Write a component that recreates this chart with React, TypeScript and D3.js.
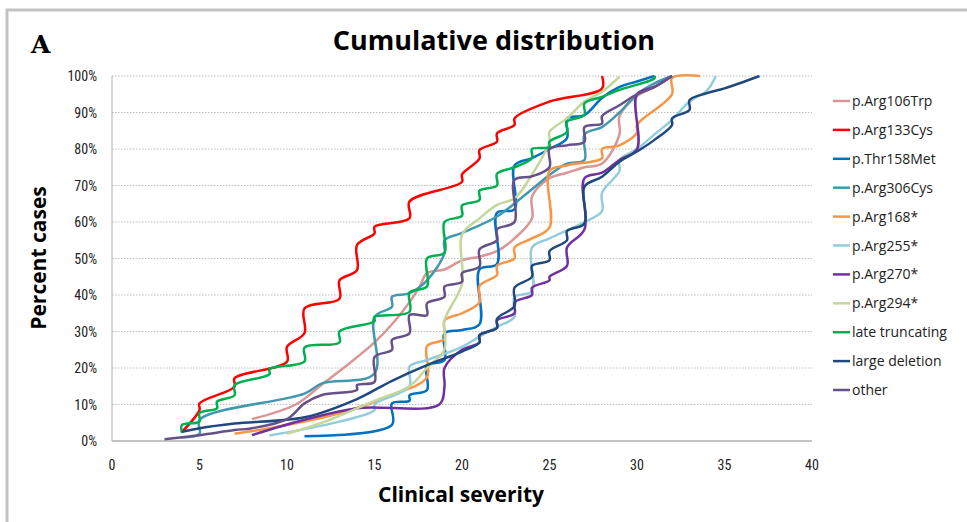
import React from "react";
import * as d3 from "d3";

const W = 967;
const H = 522;

const xTicks = [0, 5, 10, 15, 20, 25, 30, 35, 40];
const yTicks = [0, 10, 20, 30, 40, 50, 60, 70, 80, 90, 100];

// [severity, cumulative %]
const arg106Trp = [[8, 6], [10.5, 10], [12, 15.5], [13.5, 21], [15, 27], [16, 32], [17, 38], [17.6, 42.5], [18, 46], [19, 47], [20, 49.5], [21, 50.5], [22, 52], [23, 55.5], [24, 61], [24, 67], [25, 72], [26, 73.5], [27, 75], [28, 76], [29, 84], [29, 89], [30, 94.5], [31, 97], [32, 100]];
const arg133Cys = [[4, 2.5], [5, 8.5], [5, 10.3], [7, 14.9], [7, 17.2], [10, 21.7], [10, 25.8], [11, 29.6], [11, 36.3], [13, 39], [13, 44], [14, 46.8], [14, 53.7], [15, 56.9], [15, 58.7], [17, 61], [17, 65.6], [20, 71], [20, 73], [21, 77.4], [21, 79.7], [22, 82], [22, 84.3], [23, 86.6], [23, 88.4], [25, 93], [28, 96.6], [28, 100]];
const thr158Met = [[11, 1.3], [16, 4.4], [16, 10.3], [17, 11], [17, 12.5], [18, 14], [18, 20.5], [19, 22.2], [19, 29.5], [20, 30.4], [21, 32], [21, 47], [22, 48.5], [22, 62.5], [23, 63.5], [23, 75.5], [24, 77.5], [25, 80], [26, 83], [26, 88.4], [27, 89.3], [28, 94], [29, 97], [30, 98.5], [31, 100]];
const arg306Cys = [[4, 1], [5, 2], [5, 5.8], [11, 13], [12, 15.8], [15, 18.5], [15, 34], [16, 36.8], [16, 39.5], [17, 40.5], [18, 44], [19, 51.5], [19, 55], [20, 57], [22, 61.5], [24, 69], [25, 72.9], [26, 76], [27, 77], [27, 84], [28, 86], [29, 90], [30, 95], [31, 98], [32, 100]];
const arg168 = [[7, 2], [9, 3.5], [13, 7.6], [16, 12.6], [18, 17.5], [18, 26], [19, 28], [19, 33], [20, 35], [21, 38], [21, 42.5], [22, 45.5], [22, 48], [23, 50], [23, 53], [24, 55.5], [25, 58.5], [25, 74], [26, 75.5], [28, 77.5], [28, 80], [29, 81], [30, 84.5], [30, 86.6], [32, 95], [32, 99.5], [33.6, 100]];
const arg255 = [[9, 1.5], [13, 5.3], [15, 8.5], [15, 10], [17, 15], [17, 20.4], [18, 22.2], [20, 25.8], [21, 28.6], [22, 31.3], [23, 34], [23, 39.5], [24, 41], [24, 53], [25, 55.5], [27, 60], [28, 63], [28, 68], [29, 74], [29, 77], [30, 80], [31, 84], [32, 88], [33, 93], [34, 96], [34.5, 100]];
const arg270 = [[8, 1.6], [11, 5.8], [14, 9], [18.7, 10], [19, 15], [19, 20], [20, 25], [21, 27], [21, 29], [22, 31], [22, 33], [23, 35], [23, 38], [24, 40], [24, 42], [25, 44], [25, 45], [26, 48], [26, 53], [27, 58], [27, 72], [28, 73.5], [29, 77], [30, 80], [30, 95], [31, 97], [32, 100]];
const arg294 = [[10, 2], [12, 5], [15, 11], [17, 15], [18, 20], [19, 25], [19, 33], [20, 43], [20, 56.5], [21, 61], [22, 64.7], [23, 66.5], [24, 73], [25, 82], [25, 84.7], [26, 88.4], [27, 93], [28, 95.7], [29, 99.8]];
const lateTruncating = [[4, 2.2], [4, 4.4], [5, 5.3], [5, 7.6], [6, 9], [6, 10.8], [7, 12.5], [7, 15.3], [9, 18.3], [9, 19.7], [11, 21.8], [11, 25.6], [13, 27], [13, 30], [15, 32.8], [15, 34], [17, 35.4], [17, 40.7], [18, 42.3], [18, 50], [19, 51.6], [19, 60], [20, 61.7], [20, 64.5], [21, 66], [21, 68.6], [22, 70], [22, 73.2], [23, 75], [24, 77.5], [24, 80], [25, 80.5], [25, 82], [26, 84.7], [26, 87.5], [27, 89.3], [27, 92.5], [28, 94.3], [29, 96.2], [31, 99.4], [31, 100]];
const largeDeletion = [[4, 2.5], [5, 3.5], [7, 4.8], [11, 6.5], [14, 11.5], [16, 16.5], [18, 20.8], [20, 24.5], [21, 27], [21, 29], [22, 31], [22, 33.5], [23, 37], [23, 42], [24, 45], [24, 48], [25, 49.5], [25, 52], [26, 55], [26, 57.5], [27, 59.6], [27, 69.7], [28, 72.4], [29, 76.5], [30, 79.3], [31, 82.5], [32, 86.6], [32, 88.4], [33, 90.7], [33, 93.4], [34, 95.3], [35, 96.6], [37, 100]];
const other = [[3, 0.5], [5, 1.6], [7, 3], [8, 3.5], [10, 6], [11, 10.3], [12, 12.6], [14, 14], [14, 15.3], [15, 16.2], [15, 23], [16, 25], [16, 27.7], [17, 29.5], [17, 34.5], [18, 34.5], [18, 37.7], [19, 39.5], [19, 42.3], [20, 43.6], [20, 46], [21, 47.8], [21, 52.5], [22, 55], [22, 58], [23, 60], [23, 71.5], [24, 72.5], [25, 75], [25, 80], [26, 81], [27, 82], [27, 86], [28, 87], [28, 89], [29, 92], [30, 95], [31, 97], [32, 100]];

const seriesNames = ["p.Arg106Trp", "p.Arg133Cys", "p.Thr158Met", "p.Arg306Cys", "p.Arg168*", "p.Arg255*", "p.Arg270*", "p.Arg294*", "late truncating", "large deletion", "other"];
const seriesData = [arg106Trp, arg133Cys, thr158Met, arg306Cys, arg168, arg255, arg270, arg294, lateTruncating, largeDeletion, other];
const seriesColors = ["#d99694", "#ff0000", "#0070c0", "#4198af", "#f79646", "#93cddd", "#7030a0", "#c3d69b", "#00b050", "#1f497d", "#65508a"];

export default function App() {
  const x = d3.scaleLinear().domain([0, 40]).range([112, 812]);
  const y = d3.scaleLinear().domain([0, 100]).range([441, 76]);
  const line = d3
    .line<number[]>()
    .x((d) => x(d[0]))
    .y((d) => y(d[1]))
    .curve(d3.curveCatmullRom.alpha(0.5));

  const labelFont = "'Liberation Sans Narrow', 'Roboto Condensed', 'Liberation Sans', sans-serif";
  const boldFont = "'Open Sans', 'Noto Sans', sans-serif";

  return (
    <svg width={W} height={H} style={{ position: "absolute", left: 0, top: 0, background: "#fff" }}>
      <rect x={7} y={10} width={W + 20} height={H + 20} fill="none" stroke="#c3c3c3" strokeWidth={3} />
      <text x={31} y={53} fontFamily="'DejaVu Serif', 'Liberation Serif', serif" fontWeight="bold" fontSize={25}>A</text>
      <text x={494} y={50} textAnchor="middle" fontFamily={boldFont} fontWeight={700} fontSize={27}>Cumulative distribution</text>

      {yTicks.map((t) => (
        <g key={"y" + t}>
          {t > 0 && (
            <line x1={x(0)} x2={x(40)} y1={y(t)} y2={y(t)} stroke="#bdbdbd" strokeWidth={1} strokeDasharray="1.5,1.5" />
          )}
          <text x={97} y={y(t) + 5} textAnchor="end" fontFamily={labelFont} fontSize={14} fill="#222">{t + "%"}</text>
        </g>
      ))}
      <line x1={x(0)} x2={x(0)} y1={y(100)} y2={y(0)} stroke="#b0b0b0" strokeWidth={1} />
      <line x1={x(0)} x2={x(40)} y1={y(0)} y2={y(0)} stroke="#b0b0b0" strokeWidth={1.5} />
      {xTicks.map((t) => (
        <text key={"x" + t} x={x(t)} y={470} textAnchor="middle" fontFamily={labelFont} fontSize={14} fill="#222">{t}</text>
      ))}

      <text x={461} y={502} textAnchor="middle" fontFamily={boldFont} fontWeight={700} fontSize={21}>Clinical severity</text>
      <text transform="translate(46,258) rotate(-90)" textAnchor="middle" fontFamily={boldFont} fontWeight={700} fontSize={21}>Percent cases</text>

      {seriesData.map((d, i) => (
        <path key={seriesNames[i]} d={line(d) || ""} fill="none" stroke={seriesColors[i]} strokeWidth={2.5} strokeLinejoin="round" />
      ))}

      {seriesNames.map((n, i) => (
        <g key={"lg" + n} transform={`translate(833,${101 + i * 28.9})`}>
          <line x1={0} x2={17} y1={0} y2={0} stroke={seriesColors[i]} strokeWidth={2.5} />
          <text x={19} y={5} fontFamily="'Open Sans', 'Noto Sans', sans-serif" fontSize={14} fill="#222">{n}</text>
        </g>
      ))}
    </svg>
  );
}
